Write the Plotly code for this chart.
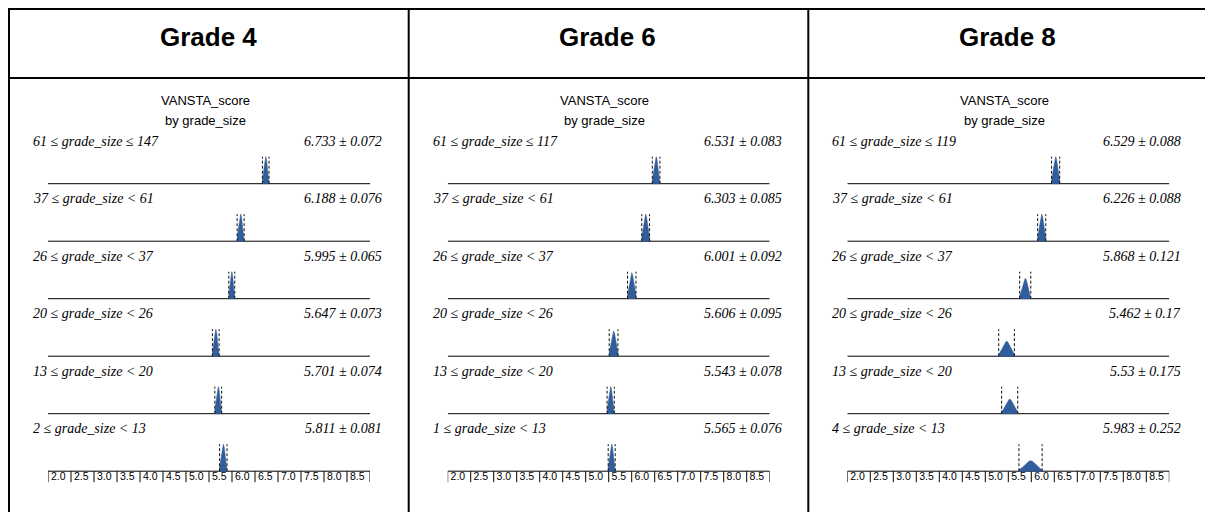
import numpy as np
import plotly.graph_objects as go

# ---------------- data ----------------
grades = ["Grade 4", "Grade 6", "Grade 8"]

labels_g4 = ["61 ≤ grade_size ≤ 147", "37 ≤ grade_size < 61", "26 ≤ grade_size < 37",
             "20 ≤ grade_size < 26", "13 ≤ grade_size < 20", "2 ≤ grade_size < 13"]
means_g4 = [6.733, 6.188, 5.995, 5.647, 5.701, 5.811]
sds_g4 = [0.072, 0.076, 0.065, 0.073, 0.074, 0.081]

labels_g6 = ["61 ≤ grade_size ≤ 117", "37 ≤ grade_size < 61", "26 ≤ grade_size < 37",
             "20 ≤ grade_size < 26", "13 ≤ grade_size < 20", "1 ≤ grade_size < 13"]
means_g6 = [6.531, 6.303, 6.001, 5.606, 5.543, 5.565]
sds_g6 = [0.083, 0.085, 0.092, 0.095, 0.078, 0.076]

labels_g8 = ["61 ≤ grade_size ≤ 119", "37 ≤ grade_size < 61", "26 ≤ grade_size < 37",
             "20 ≤ grade_size < 26", "13 ≤ grade_size < 20", "4 ≤ grade_size < 13"]
means_g8 = [6.529, 6.226, 5.868, 5.462, 5.53, 5.983]
sds_g8 = [0.088, 0.088, 0.121, 0.17, 0.175, 0.252]

tick_vals = [2.0, 2.5, 3.0, 3.5, 4.0, 4.5, 5.0, 5.5, 6.0, 6.5, 7.0, 7.5, 8.0, 8.5, 9.0]
tick_text = ["2.0", "2.5", "3.0", "3.5", "4.0", "4.5", "5.0", "5.5", "6.0", "6.5",
             "7.0", "7.5", "8.0", "8.5"]

panel_title = "VANSTA_score"
panel_subtitle = "by grade_size"

panels = [
    (labels_g4, means_g4, sds_g4),
    (labels_g6, means_g6, sds_g6),
    (labels_g8, means_g8, sds_g8),
]

# ---------------- layout constants (pixels) ----------------
W, H = 1205, 512
panel_left = [9, 408.7, 808.3]
panel_w = 400
ax_off0, ax_off1 = 39, 361
base0 = 183.7      # baseline of first row
row_h = 57.5       # distance between rows
hump_max_px = 27
dash_px = 27
tick_px = 11

FILL = "#315d9b"
SANS = "Liberation Sans, Arial, sans-serif"
SERIF = "Liberation Serif, Times New Roman, serif"

fig = go.Figure()

def xname(p):
    return "x" if p == 0 else f"x{p+1}"

for p, (labels, means, sds) in enumerate(panels):
    xa = xname(p)
    n = len(labels)
    # baselines
    bx, by = [], []
    for r in range(n):
        bx += [tick_vals[0], tick_vals[-1], None]
        by += [r, r, None]
    fig.add_trace(go.Scatter(x=bx, y=by, xaxis=xa, yaxis="y", mode="lines",
                             line=dict(color="black", width=1), hoverinfo="skip",
                             showlegend=False))
    # ticks on the last row
    tx, ty = [], []
    for v in tick_vals:
        tx += [v, v, None]
        ty += [n - 1, n - 1 + tick_px / row_h, None]
    fig.add_trace(go.Scatter(x=tx, y=ty, xaxis=xa, yaxis="y", mode="lines",
                             line=dict(color="black", width=1), hoverinfo="skip",
                             showlegend=False))
    fig.add_trace(go.Scatter(x=tick_vals[:len(tick_text)],
                             y=[n - 1 + 6.5 / row_h] * len(tick_text),
                             text=["\u00a0" + t for t in tick_text], mode="text",
                             textposition="middle right",
                             textfont=dict(family=SANS, size=10.5, color="black"),
                             xaxis=xa, yaxis="y", hoverinfo="skip", showlegend=False))
    # humps
    for r, (mu, sd) in enumerate(zip(means, sds)):
        h = min(hump_max_px, hump_max_px * (0.088 / sd) ** 0.9) / row_h
        xs = np.linspace(mu - sd, mu + sd, 61)
        ys = r - h * np.exp(-0.5 * ((xs - mu) / (sd / 2.0)) ** 2)
        px = list(xs) + [mu + sd, mu - sd]
        py = list(ys) + [r, r]
        fig.add_trace(go.Scatter(x=px, y=py, xaxis=xa, yaxis="y", mode="lines",
                                 fill="toself", fillcolor=FILL,
                                 line=dict(color=FILL, width=0.5),
                                 hoverinfo="skip", showlegend=False))
        dh = dash_px / row_h
        fig.add_trace(go.Scatter(x=[mu - sd, mu - sd, None, mu + sd, mu + sd],
                                 y=[r, r - dh, None, r, r - dh],
                                 xaxis=xa, yaxis="y", mode="lines",
                                 line=dict(color="#111", width=1, dash="3px,2px"),
                                 hoverinfo="skip", showlegend=False))
        # row labels
        span = ax_off1 - ax_off0
        fig.add_annotation(text=labels[r], xref=f"{xa} domain", yref="y",
                           x=(22 - ax_off0) / span, y=r - 42.5 / row_h,
                           xanchor="left", yanchor="middle", showarrow=False,
                           font=dict(family=SERIF, size=14, color="black", style="italic"))
        fig.add_annotation(text=f"{mu} ± {sd}", xref=f"{xa} domain", yref="y",
                           x=(375 - ax_off0) / span, y=r - 42.5 / row_h,
                           xanchor="right", yanchor="middle", showarrow=False,
                           font=dict(family=SERIF, size=14, color="black", style="italic"))
    # titles
    cx = (panel_left[p] + 196) / W
    fig.add_annotation(text=panel_title, xref="paper", yref="paper", x=cx,
                       y=1 - 100 / H, xanchor="center", yanchor="middle", showarrow=False,
                       font=dict(family=SANS, size=13, color="black"))
    fig.add_annotation(text=panel_subtitle, xref="paper", yref="paper", x=cx,
                       y=1 - 120 / H, xanchor="center", yanchor="middle", showarrow=False,
                       font=dict(family=SANS, size=13, color="black"))
    fig.add_annotation(text=f"<b>{grades[p]}</b>", xref="paper", yref="paper",
                       x=(panel_left[p] + panel_w / 2 - 1) / W, y=1 - 36.5 / H,
                       xanchor="center", yanchor="middle", showarrow=False,
                       font=dict(family=SANS, size=26, color="black"))

# borders
def hline(y, x0, x1):
    fig.add_shape(type="line", xref="paper", yref="paper", x0=x0 / W, x1=x1 / W,
                  y0=1 - y / H, y1=1 - y / H, line=dict(color="black", width=2))

def vline(x, y0, y1):
    fig.add_shape(type="line", xref="paper", yref="paper", x0=x / W, x1=x / W,
                  y0=1 - y0 / H, y1=1 - y1 / H, line=dict(color="black", width=2))

hline(9, 8, W + 5)
hline(78, 8, W + 5)
vline(9, 8, H + 5)
vline(408.7, 8, H + 5)
vline(808.3, 8, H + 5)

layout_axes = {}
for p in range(3):
    key = "xaxis" if p == 0 else f"xaxis{p+1}"
    layout_axes[key] = dict(domain=[(panel_left[p] + ax_off0) / W, (panel_left[p] + ax_off1) / W],
                            range=[tick_vals[0], tick_vals[-1]], visible=False,
                            anchor="y", fixedrange=True)

fig.update_layout(
    width=W, height=H, margin=dict(l=0, r=0, t=0, b=0),
    paper_bgcolor="white", plot_bgcolor="rgba(0,0,0,0)",
    yaxis=dict(domain=[0, 1], range=[(H - base0) / row_h, -base0 / row_h], visible=False,
               fixedrange=True),
    showlegend=False,
    **layout_axes,
)

fig.write_html("out.html")
